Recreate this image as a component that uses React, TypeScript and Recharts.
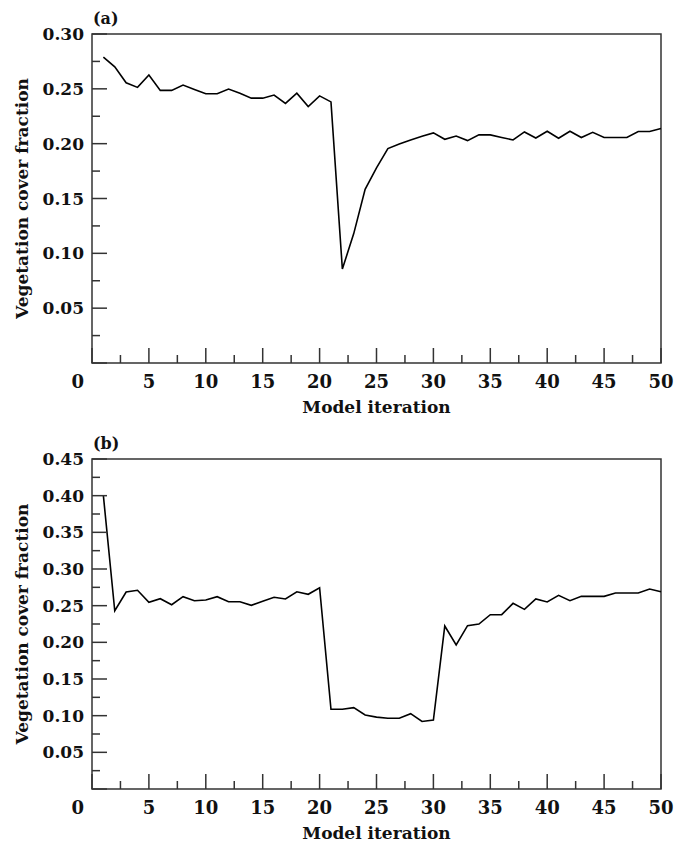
import { Label, Line, LineChart, ReferenceArea, XAxis, YAxis } from 'recharts';

// model iteration (x) for both panels
const iterations = [
  1, 2, 3, 4, 5, 6, 7, 8, 9, 10, 11, 12, 13, 14, 15, 16, 17, 18, 19, 20, 21, 22, 23, 24, 25,
  26, 27, 28, 29, 30, 31, 32, 33, 34, 35, 36, 37, 38, 39, 40, 41, 42, 43, 44, 45, 46, 47, 48, 49, 50
];

// panel (a) vegetation cover fraction
const coverA = [
  0.279, 0.27, 0.2555, 0.2513, 0.2626, 0.2486, 0.2486, 0.2534, 0.2495, 0.2455,
  0.2455, 0.2498, 0.246, 0.2415, 0.2415, 0.2443, 0.2367, 0.2461, 0.2339, 0.2436,
  0.2381, 0.0857, 0.118, 0.1583, 0.178, 0.1955, 0.1997, 0.2034, 0.2068, 0.2098,
  0.204, 0.207, 0.2028, 0.208, 0.208, 0.2056, 0.2034, 0.2107, 0.2052, 0.2113,
  0.2049, 0.2113, 0.2056, 0.2104, 0.2056, 0.2056, 0.2056, 0.2111, 0.2111, 0.2138
];

// panel (b) vegetation cover fraction
const coverB = [
  0.4, 0.2431, 0.2686, 0.271, 0.2546, 0.2595, 0.2513, 0.2622, 0.2568, 0.2577,
  0.2622, 0.2554, 0.2554, 0.2505, 0.256, 0.2614, 0.2591, 0.269, 0.2655, 0.2745,
  0.1087, 0.1087, 0.111, 0.1009, 0.098, 0.0964, 0.0964, 0.1027, 0.092, 0.094,
  0.2223, 0.1964, 0.2227, 0.225, 0.2377, 0.2377, 0.2532, 0.245, 0.2591, 0.255,
  0.2641, 0.2568, 0.2627, 0.2627, 0.2627, 0.2673, 0.2673, 0.2673, 0.2727, 0.269
];

const iterationTicks = [
  0, 2.5, 5, 7.5, 10, 12.5, 15, 17.5, 20, 22.5, 25, 27.5, 30, 32.5, 35, 37.5, 40, 42.5, 45, 47.5, 50
];
const coverTicksA = [0, 0.025, 0.05, 0.075, 0.1, 0.125, 0.15, 0.175, 0.2, 0.225, 0.25, 0.275, 0.3];
const coverTicksB = [
  0, 0.025, 0.05, 0.075, 0.1, 0.125, 0.15, 0.175, 0.2, 0.225, 0.25, 0.275, 0.3, 0.325, 0.35, 0.375,
  0.4, 0.425, 0.45
];

const FONT = '"DejaVu Serif", "Liberation Serif", serif';
const INK = '#333';

function IterationTick({ x, y, payload }: any) {
  const v = payload.value as number;
  const major = v % 5 === 0;
  return (
    <g>
      <line x1={x} y1={y} x2={x} y2={y - (major ? 15 : 8)} stroke={INK} strokeWidth={1.5} />
      {major && (
        <text
          x={v === 0 ? x - 8 : x}
          y={y + 25}
          textAnchor={v === 0 ? 'end' : 'middle'}
          fontFamily={FONT}
          fontWeight="bold"
          fontSize={18}
          fill="#111"
        >
          {v}
        </text>
      )}
    </g>
  );
}

function CoverTick({ x, y, payload }: any) {
  const v = payload.value as number;
  const major = Math.round(v * 1000) % 50 === 0;
  return (
    <g>
      <line x1={x} y1={y} x2={x + (major ? 15 : 8)} y2={y} stroke={INK} strokeWidth={1.5} />
      {major && v > 0 && (
        <text x={x - 8} y={y + 6} textAnchor="end" fontFamily={FONT} fontWeight="bold" fontSize={17} fill="#111">
          {v.toFixed(2)}
        </text>
      )}
    </g>
  );
}

interface PanelProps {
  letter: string;
  values: number[];
  ticks: number[];
  yMax: number;
  height: number;
  bottom: number;
}

function Panel({ letter, values, ticks, yMax, height, bottom }: PanelProps) {
  const rows = iterations.map((it, i) => ({ it, cover: values[i] }));
  return (
    <div style={{ position: 'relative', width: 674, height }}>
      <span
        style={{
          position: 'absolute',
          left: 93,
          top: 11,
          fontFamily: FONT,
          fontWeight: 'bold',
          fontSize: 16,
          lineHeight: '16px',
          color: '#111'
        }}
      >
        ({letter})
      </span>
      <LineChart width={674} height={height} data={rows} margin={{ top: 34, right: 13, left: 32, bottom }}>
        <XAxis
          dataKey="it"
          type="number"
          domain={[0, 50]}
          ticks={iterationTicks}
          interval={0}
          axisLine={false}
          tickLine={false}
          tickSize={0}
          tickMargin={0}
          height={30}
          tick={<IterationTick />}
        >
          <Label
            content={({ viewBox }: any) => (
              <text
                x={viewBox.x + viewBox.width / 2}
                y={viewBox.y + 50}
                textAnchor="middle"
                fontFamily={FONT}
                fontWeight="bold"
                fontSize={17}
                fill="#111"
              >
                Model iteration
              </text>
            )}
          />
        </XAxis>
        <YAxis
          type="number"
          domain={[0, yMax]}
          ticks={ticks}
          interval={0}
          axisLine={false}
          tickLine={false}
          tickSize={0}
          tickMargin={0}
          width={60}
          tick={<CoverTick />}
        >
          <Label
            content={({ viewBox }: any) => {
              const cx = viewBox.x - 10;
              const cy = viewBox.y + viewBox.height / 2;
              return (
                <text
                  x={cx}
                  y={cy}
                  transform={`rotate(-90, ${cx}, ${cy})`}
                  textAnchor="middle"
                  dominantBaseline="central"
                  fontFamily={FONT}
                  fontWeight="bold"
                  fontSize={17}
                  fill="#111"
                >
                  Vegetation cover fraction
                </text>
              );
            }}
          />
        </YAxis>
        <ReferenceArea x1={0} x2={50} y1={0} y2={yMax} fill="none" stroke={INK} strokeWidth={1.5} />
        <Line
          dataKey="cover"
          type="linear"
          stroke="#000"
          strokeWidth={1.6}
          dot={false}
          isAnimationActive={false}
        />
      </LineChart>
    </div>
  );
}

export default function App() {
  return (
    <div style={{ position: 'absolute', left: 0, top: 0, width: 674, height: 845, background: '#fff' }}>
      <Panel letter="a" values={coverA} ticks={coverTicksA} yMax={0.3} height={425} bottom={32} />
      <Panel letter="b" values={coverB} ticks={coverTicksB} yMax={0.45} height={420} bottom={26} />
    </div>
  );
}
